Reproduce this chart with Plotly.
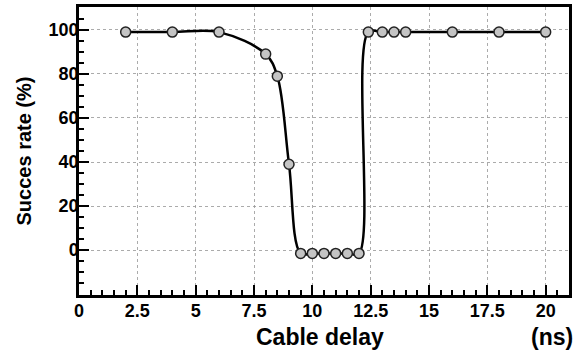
import plotly.graph_objects as go

# Measured success rate versus cable delay
delay_ns = [2, 4, 6, 8, 8.5, 9, 9.5, 10, 10.5, 11, 11.5, 12, 12.4, 13, 13.5, 14, 16, 18, 20]
success_pct = [99, 99, 99, 89, 79, 39, -1.5, -1.5, -1.5, -1.5, -1.5, -1.5, 99, 99, 99, 99, 99, 99, 99]

x_ticks = [0, 2.5, 5, 7.5, 10, 12.5, 15, 17.5, 20]
x_tick_text = ["0", "2.5", "5", "7.5", "10", "12.5", "15", "17.5", "20"]
y_ticks = [0, 20, 40, 60, 80, 100]

FONT = "Liberation Sans, Arial, sans-serif"

fig = go.Figure()
fig.add_trace(go.Scatter(
    x=delay_ns, y=success_pct,
    mode="lines+markers",
    line=dict(color="black", width=2.5, shape="spline", smoothing=1.0),
    marker=dict(size=10, color="#c4c4c4", line=dict(color="#222", width=1.5)),
    showlegend=False,
))

axis_common = dict(
    showline=True, linecolor="black", linewidth=2.5, mirror=True,
    ticks="inside", tickcolor="black", tickwidth=2, ticklen=10,
    showgrid=True, gridcolor="rgba(150,150,150,0.8)", gridwidth=1, griddash="dot",
    zeroline=False,
    tickfont=dict(family=FONT, size=18, color="black", weight="bold"),
)

fig.update_xaxes(
    range=[0, 21], tickvals=x_ticks, ticktext=x_tick_text,
    minor=dict(dtick=0.5, ticks="inside", ticklen=5, tickwidth=2, tickcolor="black", showgrid=False),
    ticklabelstandoff=-2,
    **axis_common,
)
fig.update_yaxes(
    range=[-20.4, 110.4], tickvals=y_ticks,
    minor=dict(dtick=5, ticks="inside", ticklen=5, tickwidth=2, tickcolor="black", showgrid=False),
    ticklabelstandoff=-6,
    title=dict(text="Succes rate (%)", font=dict(family=FONT, size=20, color="black", weight="bold"), standoff=12),
    **axis_common,
)

fig.add_annotation(text="Cable delay", xref="paper", yref="paper", x=0.492, y=-0.145,
                   xanchor="center", yanchor="middle", showarrow=False,
                   font=dict(family=FONT, size=23, color="black", weight="bold"))
fig.add_annotation(text="(ns)", xref="paper", yref="paper", x=1.012, y=-0.145,
                   xanchor="right", yanchor="middle", showarrow=False,
                   font=dict(family=FONT, size=23, color="black", weight="bold"))

fig.update_layout(
    width=576, height=352,
    margin=dict(l=79, r=4, t=6, b=57),
    paper_bgcolor="white", plot_bgcolor="white",
)

fig.write_html("out.html")
